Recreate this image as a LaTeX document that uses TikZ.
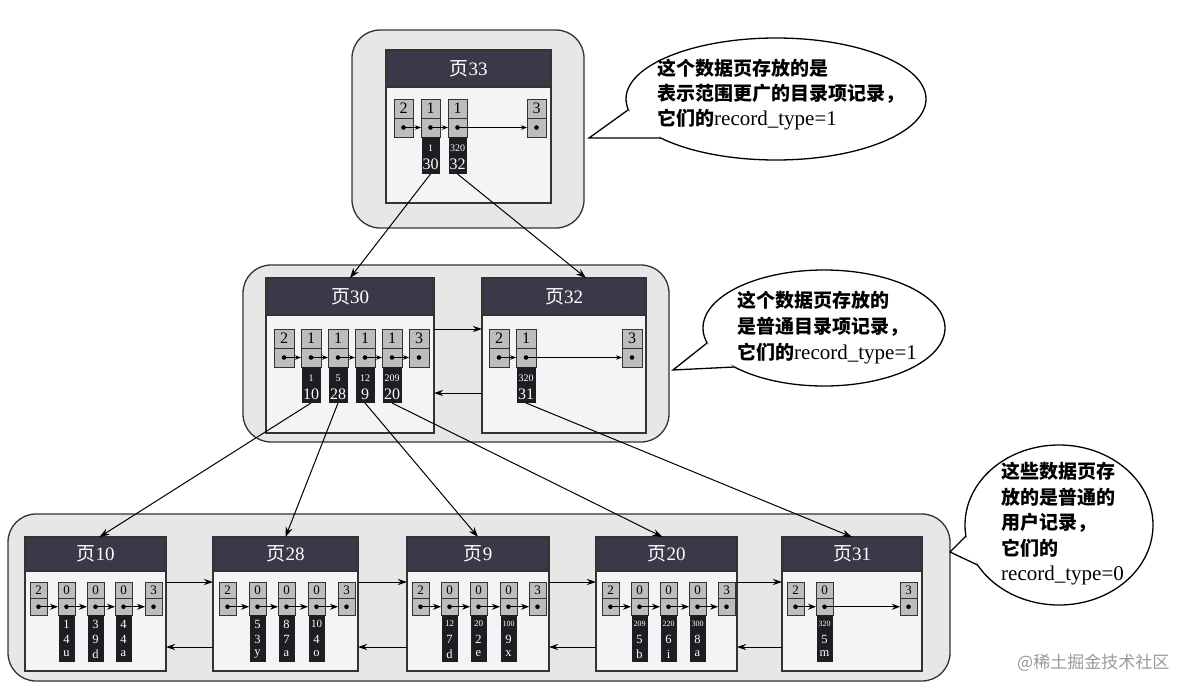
\documentclass[tikz,border=0pt]{standalone}
\usepackage{fontspec}
\setmainfont{Liberation Serif}
\newfontfamily\cjk{Noto Sans CJK SC}
\usetikzlibrary{arrows.meta,calc}
\definecolor{hdr}{HTML}{3B3949}
\definecolor{cellg}{HTML}{BDBDBD}
\definecolor{dcol}{HTML}{1E1D24}
\definecolor{grpfill}{HTML}{E7E7E7}
\definecolor{pgfill}{HTML}{F4F4F4}
\definecolor{edge}{HTML}{333333}

\newcommand{\mkpage}[7]{%
  \pgfmathsetmacro\pw{#4-#2}\pgfmathsetmacro\ph{#6-#3}\pgfmathsetmacro\hh{#5-#3}%
  \node[pagebody, anchor=north west, minimum width=\pw pt, minimum height=\ph pt] (#1) at (#2,#3) {};
  \node[pagehead, anchor=north west, minimum width=\pw pt, minimum height=\hh pt] (#1h) at (#2,#3) {{\cjk 页}#7};
}
% record: style, name, x, y, label
\newcommand{\rec}[5]{%
  \node[#1, anchor=north west] (#2t) at (#3,#4) {#5};
  \node[#1, anchor=north] (#2d) at (#2t.south) {};
}
% dark column, upper levels: style, name, small, big
\newcommand{\dcA}[4]{%
  \node[#1, anchor=north] (#2k) at (#2d.south) {};
  \node[dtxt, font=\fontsize{10}{10}\selectfont] (#2k1) at ([yshift=-11pt]#2k.north) {#3};
  \node[dtxt, font=\fontsize{16}{16}\selectfont] (#2k2) at ([yshift=-27pt]#2k.north) {#4};
}
% dark column, leaf level: name, size1, l1, l2, l3
\newcommand{\dcB}[5]{%
  \node[dcolB, anchor=north] (#1k) at (#1d.south) {};
  \node[dtxt, font=\fontsize{#2}{#2}\selectfont] (#1k1) at ([yshift=-9pt]#1k.north) {#3};
  \node[dtxt, font=\fontsize{12.5}{12.5}\selectfont] (#1k2) at ([yshift=-24pt]#1k.north) {#4};
  \node[dtxt, font=\fontsize{12.5}{12.5}\selectfont] (#1k3) at ([yshift=-39pt]#1k.north) {#5};
}
\newcommand{\dotin}[1]{\fill[black] (#1d.center) circle (2.3pt);}
\newcommand{\lat}[1]{{\fontsize{21}{21}\selectfont #1}}

\begin{document}
\begin{tikzpicture}[x=1pt,y=-1pt,
  grp/.style={draw=edge, line width=1.3pt, fill=grpfill, rounded corners=28pt},
  pagebody/.style={draw=edge, line width=1.3pt, fill=pgfill, inner sep=0pt, outer sep=0pt},
  pagehead/.style={draw=edge, line width=1.3pt, fill=hdr, text=white, inner sep=0pt, outer sep=0pt, font=\fontsize{19}{19}\selectfont},
  cell/.style={draw=edge, line width=0.9pt, fill=cellg, inner sep=0pt, outer sep=0pt},
  recA/.style={cell, minimum width=19pt, minimum height=19pt, font=\fontsize{16}{16}\selectfont},
  recM/.style={cell, minimum width=20pt, minimum height=19pt, font=\fontsize{16}{16}\selectfont},
  recB/.style={cell, minimum width=17pt, minimum height=16.5pt, font=\fontsize{13}{13}\selectfont},
  dcolA/.style={fill=dcol, inner sep=0pt, outer sep=0pt, minimum width=18pt, minimum height=37pt},
  dcolM/.style={fill=dcol, inner sep=0pt, outer sep=0pt, minimum width=19pt, minimum height=36pt},
  dcolB/.style={fill=dcol, inner sep=0pt, outer sep=0pt, minimum width=16pt, minimum height=47pt},
  dtxt/.style={text=white, inner sep=0pt},
  lnkA/.style={-{Stealth[length=6pt,width=4.5pt]}, line width=0.8pt},
  lnkB/.style={-{Stealth[length=8pt,width=6pt]}, line width=0.9pt},
  plink/.style={-{Stealth[length=9pt,width=6pt]}, line width=0.9pt},
  ptr/.style={-{Stealth[length=10pt,width=7pt]}, line width=1pt},
  bubble/.style={draw=black, line width=1.3pt, fill=white},
  ctext/.style={inner sep=0pt, anchor=west, align=left}
]
\useasboundingbox (0,0) rectangle (1200,694);
\fill[white] (0,0) rectangle (1200,694);

% groups
\draw[grp] (352,30) rectangle (584,228);
\draw[grp] (243,265) rectangle (669,442);
\draw[grp] (8,514) rectangle (950,681);

% pages
\mkpage{p33}{386}{50}{551}{87}{203}{33}
\mkpage{p30}{266}{278}{434}{315}{433}{30}
\mkpage{p32}{482}{278}{646}{315}{433}{32}
\mkpage{p10}{25}{537}{166}{571}{671}{10}
\mkpage{p28}{213}{537}{358}{571}{671}{28}
\mkpage{p9}{407}{537}{549}{571}{671}{9}
\mkpage{p20}{596}{537}{737}{571}{671}{20}
\mkpage{p31}{782}{537}{922}{571}{671}{31}

% page 33 records
\rec{recA}{a1}{394}{99}{2}
\rec{recA}{a2}{421}{99}{1}
\rec{recA}{a3}{448}{99}{1}
\rec{recA}{a4}{527}{99}{3}
\dcA{dcolA}{a2}{1}{30}
\dcA{dcolA}{a3}{320}{32}
\draw[lnkA] (a1d.center) -- (a2d.west);
\draw[lnkA] (a2d.center) -- (a3d.west);
\draw[lnkA] (a3d.center) -- (a4d.west);
\dotin{a1}\dotin{a2}\dotin{a3}\dotin{a4}

% page 30 records
\rec{recM}{b1}{274}{329}{2}
\rec{recM}{b2}{301}{329}{1}
\rec{recM}{b3}{328}{329}{1}
\rec{recM}{b4}{355}{329}{1}
\rec{recM}{b5}{382}{329}{1}
\rec{recM}{b6}{409}{329}{3}
\dcA{dcolM}{b2}{1}{10}
\dcA{dcolM}{b3}{5}{28}
\dcA{dcolM}{b4}{12}{9}
\dcA{dcolM}{b5}{209}{20}
\draw[lnkA] (b1d.center) -- (b2d.west);
\draw[lnkA] (b2d.center) -- (b3d.west);
\draw[lnkA] (b3d.center) -- (b4d.west);
\draw[lnkA] (b4d.center) -- (b5d.west);
\draw[lnkA] (b5d.center) -- (b6d.west);
\dotin{b1}\dotin{b2}\dotin{b3}\dotin{b4}\dotin{b5}\dotin{b6}

% page 32 records
\rec{recM}{c1}{489}{329}{2}
\rec{recM}{c2}{516}{329}{1}
\rec{recM}{c3}{622}{329}{3}
\dcA{dcolM}{c2}{320}{31}
\draw[lnkA] (c1d.center) -- (c2d.west);
\draw[lnkA] (c2d.center) -- (c3d.west);
\dotin{c1}\dotin{c2}\dotin{c3}

% page 10
\rec{recB}{d1}{30}{582}{2}
\rec{recB}{d2}{58}{582}{0}
\rec{recB}{d3}{87}{582}{0}
\rec{recB}{d4}{115}{582}{0}
\rec{recB}{d5}{145}{582}{3}
\dcB{d2}{12.5}{1}{4}{u}
\dcB{d3}{12.5}{3}{9}{d}
\dcB{d4}{12.5}{4}{4}{a}
\draw[lnkB] (d1d.center) -- (d2d.west);
\draw[lnkB] (d2d.center) -- (d3d.west);
\draw[lnkB] (d3d.center) -- (d4d.west);
\draw[lnkB] (d4d.center) -- (d5d.west);
\dotin{d1}\dotin{d2}\dotin{d3}\dotin{d4}\dotin{d5}

% page 28
\rec{recB}{e1}{219}{582}{2}
\rec{recB}{e2}{249}{582}{0}
\rec{recB}{e3}{278}{582}{0}
\rec{recB}{e4}{308}{582}{0}
\rec{recB}{e5}{338}{582}{3}
\dcB{e2}{12.5}{5}{3}{y}
\dcB{e3}{12.5}{8}{7}{a}
\dcB{e4}{11}{10}{4}{o}
\draw[lnkB] (e1d.center) -- (e2d.west);
\draw[lnkB] (e2d.center) -- (e3d.west);
\draw[lnkB] (e3d.center) -- (e4d.west);
\draw[lnkB] (e4d.center) -- (e5d.west);
\dotin{e1}\dotin{e2}\dotin{e3}\dotin{e4}\dotin{e5}

% page 9
\rec{recB}{f1}{412}{582}{2}
\rec{recB}{f2}{441}{582}{0}
\rec{recB}{f3}{470}{582}{0}
\rec{recB}{f4}{500}{582}{0}
\rec{recB}{f5}{529}{582}{3}
\dcB{f2}{9}{12}{7}{d}
\dcB{f3}{9}{20}{2}{e}
\dcB{f4}{8}{100}{9}{x}
\draw[lnkB] (f1d.center) -- (f2d.west);
\draw[lnkB] (f2d.center) -- (f3d.west);
\draw[lnkB] (f3d.center) -- (f4d.west);
\draw[lnkB] (f4d.center) -- (f5d.west);
\dotin{f1}\dotin{f2}\dotin{f3}\dotin{f4}\dotin{f5}

% page 20
\rec{recB}{g1}{602}{582}{2}
\rec{recB}{g2}{631}{582}{0}
\rec{recB}{g3}{660}{582}{0}
\rec{recB}{g4}{689}{582}{0}
\rec{recB}{g5}{718}{582}{3}
\dcB{g2}{8}{209}{5}{b}
\dcB{g3}{8}{220}{6}{i}
\dcB{g4}{8}{300}{8}{a}
\draw[lnkB] (g1d.center) -- (g2d.west);
\draw[lnkB] (g2d.center) -- (g3d.west);
\draw[lnkB] (g3d.center) -- (g4d.west);
\draw[lnkB] (g4d.center) -- (g5d.west);
\dotin{g1}\dotin{g2}\dotin{g3}\dotin{g4}\dotin{g5}

% page 31
\rec{recB}{h1}{787}{582}{2}
\rec{recB}{h2}{816}{582}{0}
\rec{recB}{h3}{900}{582}{3}
\dcB{h2}{8}{320}{5}{m}
\draw[lnkB] (h1d.center) -- (h2d.west);
\draw[lnkB] (h2d.center) -- (h3d.west);
\dotin{h1}\dotin{h2}\dotin{h3}

% links between sibling pages
\draw[plink] ([yshift=-51pt]p30.north east) -- ([yshift=-51pt]p32.north west);
\draw[plink] ([yshift=-115pt]p32.north west) -- ([yshift=-115pt]p30.north east);
\foreach \u/\v in {p10/p28, p28/p9, p9/p20, p20/p31}{
  \draw[plink] ([yshift=-45pt]\u.north east) -- ([yshift=-45pt]\v.north west);
  \draw[plink] ([yshift=-110pt]\v.north west) -- ([yshift=-110pt]\u.north east);
}

% child pointers
\draw[ptr] (a2k.south) -- (p30h.north);
\draw[ptr] (a3k.south) -- ([xshift=22pt]p32h.north);
\draw[ptr] (b2k.south) -- ([xshift=4pt]p10h.north);
\draw[ptr] (b3k.south) -- (p28h.north);
\draw[ptr] (b4k.south) -- (p9h.north);
\draw[ptr] (b5k.south) -- ([xshift=-4pt]p20h.north);
\draw[ptr] (c2k.south) -- (p31h.north);

% callout 1
\draw[bubble] (776,99) ellipse [x radius=150pt, y radius=61pt];
\coordinate (c1tip) at (589,138);
\coordinate (c1b1) at (628,110);
\coordinate (c1b2) at (661,138);
\fill[white] (c1tip) -- (c1b1) -- (c1b2) -- cycle;
\draw[line width=1.3pt, line join=miter] (c1b1) -- (c1tip) -- (c1b2);
\node[ctext, font=\fontsize{19}{25}\selectfont] (t1) at (657,95)
  {{\cjk\bfseries 这个数据页存放的是}\\{\cjk\bfseries 表示范围更广的目录项记录，}\\{\cjk\bfseries 它们的}\lat{record\_type=1}};

% callout 2
\draw[bubble] (824,328) ellipse [x radius=121pt, y radius=58pt];
\coordinate (c2tip) at (673,370);
\coordinate (c2b1) at (707,343);
\coordinate (c2b2) at (734,367);
\fill[white] (c2tip) -- (c2b1) -- (c2b2) -- cycle;
\draw[line width=1.3pt, line join=miter] (c2b1) -- (c2tip) -- (c2b2);
\node[ctext, font=\fontsize{19}{26}\selectfont] (t2) at (737,328)
  {{\cjk\bfseries 这个数据页存放的}\\{\cjk\bfseries 是普通目录项记录，}\\{\cjk\bfseries 它们的}\lat{record\_type=1}};

% callout 3
\draw[bubble] (1059,525) ellipse [x radius=94pt, y radius=80pt];
\coordinate (c3tip) at (950,552);
\coordinate (c3b1) at (966,536);
\coordinate (c3b2) at (977.6,565);
\fill[white] (c3tip) -- (c3b1) -- (c3b2) -- cycle;
\draw[line width=1.3pt, line join=miter] (c3b1) -- (c3tip) -- (c3b2);
\node[ctext, font=\fontsize{19}{25.5}\selectfont] (t3) at (1001,524)
  {{\cjk\bfseries 这些数据页存}\\{\cjk\bfseries 放的是普通的}\\{\cjk\bfseries 用户记录，}\\{\cjk\bfseries 它们的}\\\lat{record\_type=0}};

% watermark
\node[anchor=west, inner sep=0pt, text=black!40, font=\cjk\fontsize{17}{17}\selectfont] (wm) at (1017,663) {@稀土掘金技术社区};
\end{tikzpicture}
\end{document}
